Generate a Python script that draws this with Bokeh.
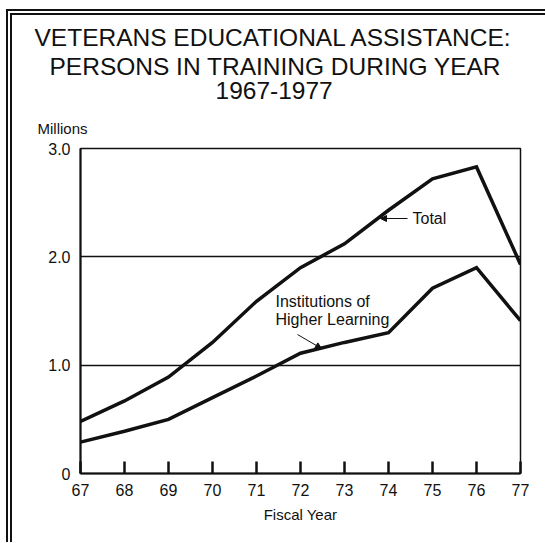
from bokeh.plotting import figure
from bokeh.models import Range1d, FixedTicker, Label, Arrow, NormalHead, Title
from bokeh.embed import file_html
from bokeh.resources import INLINE

# ---- data (millions of persons in training) ----
years = [67, 68, 69, 70, 71, 72, 73, 74, 75, 76, 77]
year_labels = ["67", "68", "69", "70", "71", "72", "73", "74", "75", "76", "77"]
total = [0.48, 0.67, 0.89, 1.21, 1.59, 1.90, 2.12, 2.43, 2.72, 2.83, 1.93]
higher_learning = [0.29, 0.39, 0.50, 0.70, 0.90, 1.11, 1.21, 1.30, 1.71, 1.90, 1.41]
y_ticks = [0, 1, 2, 3]
y_tick_labels = ["0", "1.0", "2.0", "3.0"]
title_lines = ["VETERANS EDUCATIONAL ASSISTANCE:",
               "PERSONS IN TRAINING DURING YEAR",
               "1967-1977"]

FONT = "Liberation Sans"
INK = "#111111"

# page geometry (pixels)
OX, OY = 13, 16          # canvas origin on page (after double rule)
FL, FR, FT, FB = 81, 521, 149, 474
W, H = 533, 527

p = figure(width=W, height=H, output_backend="svg", toolbar_location=None,
           x_range=Range1d(years[0], years[-1]), y_range=Range1d(0, 3),
           min_border_left=FL - OX, min_border_right=W - (FR - OX),
           min_border_top=FT - OY, min_border_bottom=H - (FB - OY),
           frame_width=FR - FL, frame_height=FB - FT)
p.styles = {"margin-left": "6px", "margin-top": "9px",
            "border-left": "6px double #111111", "border-top": "6px double #111111"}
p.background_fill_color = "white"
p.border_fill_color = "white"
p.outline_line_color = INK
p.outline_line_width = 1.5

def px2x(px):
    return years[0] + (px - FL) * (years[-1] - years[0]) / (FR - FL)

def px2y(py):
    return (FB - py) * 3.0 / (FB - FT)

# axes
p.xaxis.ticker = FixedTicker(ticks=years)
p.xaxis.major_label_overrides = {y: l for y, l in zip(years, year_labels)}
p.xaxis.major_tick_in = 12
p.xaxis.major_tick_out = 0
p.xaxis.major_tick_line_width = 2.5
p.xaxis.major_tick_line_color = INK
p.xaxis.minor_tick_line_color = None
p.xaxis.axis_line_width = 2
p.xaxis.axis_line_color = INK
p.xaxis.major_label_standoff = 10
p.xaxis.major_label_text_font = FONT
p.xaxis.major_label_text_font_size = "16px"
p.xaxis.major_label_text_color = INK
p.xaxis.axis_label = "Fiscal Year"
p.xaxis.axis_label_text_font = FONT
p.xaxis.axis_label_text_font_style = "normal"
p.xaxis.axis_label_text_font_size = "15px"
p.xaxis.axis_label_text_color = INK
p.xaxis.axis_label_standoff = 7

p.yaxis.ticker = FixedTicker(ticks=y_ticks)
p.yaxis.major_label_overrides = {t: l for t, l in zip(y_ticks, y_tick_labels)}
p.yaxis.major_tick_in = 0
p.yaxis.major_tick_out = 0
p.yaxis.minor_tick_line_color = None
p.yaxis.axis_line_width = 2
p.yaxis.axis_line_color = INK
p.yaxis.major_label_standoff = 10
p.yaxis.major_label_text_font = FONT
p.yaxis.major_label_text_font_size = "16px"
p.yaxis.major_label_text_color = INK

p.xgrid.grid_line_color = None
p.ygrid.ticker = FixedTicker(ticks=[1, 2])
p.ygrid.grid_line_color = INK
p.ygrid.grid_line_width = 1.5

# series
p.line(years, total, line_color=INK, line_width=3.5, line_join="miter")
p.line(years, higher_learning, line_color=INK, line_width=3.5, line_join="miter")

# "Millions" (closest to frame), a spacer, then the title lines stacked above
p.add_layout(Title(text="Millions", align="left", offset=-43, standoff=23,
                   text_font=FONT, text_font_size="15px", text_font_style="normal",
                   text_color=INK), "above")
p.add_layout(Title(text=" ", align="left", standoff=0, text_font=FONT,
                   text_font_size="6px", text_color="white"), "above")
title_offsets = [-46, -31, 135]
for line, off in reversed(list(zip(title_lines, title_offsets))):
    p.add_layout(Title(text=line, align="left", offset=off, standoff=0,
                       text_font=FONT, text_font_size="24.5px", text_font_style="normal",
                       text_color=INK), "above")

# annotations inside the frame
p.add_layout(Label(x=px2x(413), y=px2y(219), text="Total", text_align="left",
                   text_baseline="middle", text_font=FONT, text_font_size="16px",
                   text_color=INK))
p.add_layout(Arrow(x_start=px2x(408), y_start=px2y(219), x_end=px2x(381), y_end=px2y(219),
                   line_width=1.2, line_color=INK,
                   end=NormalHead(size=6, fill_color=INK, line_color=INK)))
p.add_layout(Label(x=px2x(276), y=px2y(302), text="Institutions of", text_align="left",
                   text_baseline="middle", text_font=FONT, text_font_size="16px",
                   text_color=INK))
p.add_layout(Label(x=px2x(276), y=px2y(320), text="Higher Learning", text_align="left",
                   text_baseline="middle", text_font=FONT, text_font_size="16px",
                   text_color=INK))
p.add_layout(Arrow(x_start=px2x(298), y_start=px2y(335), x_end=px2x(322), y_end=px2y(349),
                   line_width=1.0, line_color=INK,
                   end=NormalHead(size=6, fill_color=INK, line_color=INK)))

open("out.html", "w").write(file_html(p, INLINE))
